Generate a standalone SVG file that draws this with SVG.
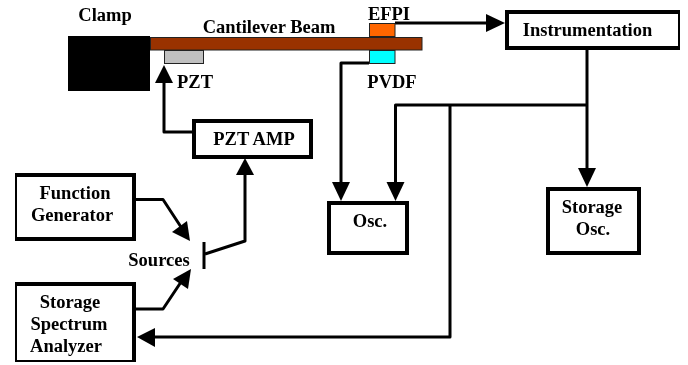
<svg xmlns="http://www.w3.org/2000/svg" width="688" height="365" viewBox="0 0 688 365">
  <style>
    text { font-family: "Liberation Serif", "Times New Roman", serif; font-weight: bold; font-size: 18.500px; fill: #000; text-anchor: middle; }
    .box { fill: #fff; stroke: #000; stroke-width: 4; }
    .part { stroke: #222; stroke-width: 1; }
    .wire { fill: none; stroke: #000; stroke-width: 3; stroke-linejoin: round; }
    .head { fill: #000; }
  </style>
  <defs>
    <filter id="soft" x="0" y="0" width="100%" height="100%"><feGaussianBlur stdDeviation="0.4"/></filter>
  </defs>
  <rect width="688" height="365" fill="#fff"/>
  <g filter="url(#soft)">
    <g id="connectors">
      <path class="wire" d="M395 23H490"/>
      <polygon class="head" points="505,23 486,14 486,32"/>
      <path class="wire" d="M369 63H341V185"/>
      <polygon class="head" points="341,201 332,182 350,182"/>
      <path class="wire" d="M587 105H395.500V185"/>
      <polygon class="head" points="395.500,201 386.500,182 404.500,182"/>
      <path class="wire" d="M587 50V172"/>
      <polygon class="head" points="587,187 578,168 596,168"/>
      <path class="wire" d="M450 105V337H152"/>
      <polygon class="head" points="137,337 155,328 155,347"/>
      <path class="wire" d="M192 132H164V80"/>
      <polygon class="head" points="164,65 155,83 173,83"/>
      <path class="wire" d="M205 254L245 241V170"/>
      <polygon class="head" points="245,158 236,175 254,175"/>
      <path class="wire" d="M204 242V269"/>
      <path class="wire" d="M136 199.500H163L181 227"/>
      <polygon class="head" points="190,241 172,232 187,221"/>
      <path class="wire" d="M136 309H163L181 282"/>
      <polygon class="head" points="191,269 188,289 173,279"/>
    </g>
    <g id="clamp">
      <rect x="68" y="36" width="82" height="55" fill="#000"/>
      <text x="105" y="21">Clamp</text>
    </g>
    <g id="beam">
      <rect class="part" x="150.500" y="37.500" width="271.500" height="12.500" fill="#993300"/>
      <text x="269" y="33">Cantilever Beam</text>
    </g>
    <g id="pzt">
      <rect class="part" x="164.500" y="50.500" width="39" height="13" fill="#c0c0c0"/>
      <text x="195" y="88">PZT</text>
    </g>
    <g id="efpi">
      <rect class="part" x="369.500" y="23.500" width="25.500" height="13" fill="#ff6600"/>
      <text x="389" y="20">EFPI</text>
    </g>
    <g id="pvdf">
      <rect class="part" x="369.500" y="50.500" width="25.500" height="13" fill="#00ffff"/>
      <text x="392" y="88">PVDF</text>
    </g>
    <g id="pzt-amp">
      <rect class="box" x="194" y="121" width="117" height="36"/>
      <text x="254" y="145">PZT AMP</text>
    </g>
    <g id="function-generator">
      <rect class="box" x="15" y="175" width="119" height="64"/>
      <text x="75" y="199">Function</text>
      <text x="72" y="221">Generator</text>
    </g>
    <g id="sources">
      <text x="159" y="266">Sources</text>
    </g>
    <g id="storage-spectrum-analyzer">
      <rect class="box" x="15" y="284" width="119" height="78"/>
      <text x="70" y="308">Storage</text>
      <text x="69" y="330">Spectrum</text>
      <text x="66" y="352">Analyzer</text>
    </g>
    <g id="instrumentation">
      <rect class="box" x="507" y="12" width="173" height="36"/>
      <text x="587.500" y="36">Instrumentation</text>
    </g>
    <g id="osc">
      <rect class="box" x="329" y="203" width="78" height="50"/>
      <text x="370" y="227">Osc.</text>
    </g>
    <g id="storage-osc">
      <rect class="box" x="548" y="189" width="91" height="64"/>
      <text x="592" y="213">Storage</text>
      <text x="593" y="235">Osc.</text>
    </g>
  </g>
</svg>
